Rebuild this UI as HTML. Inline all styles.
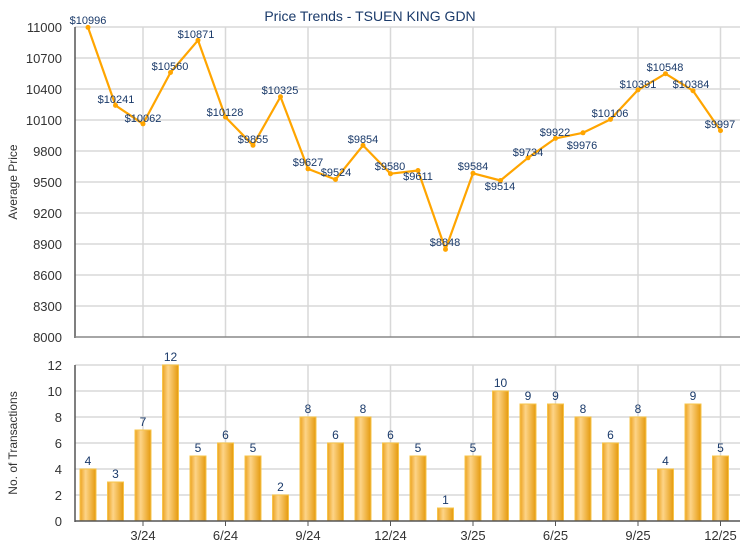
<!DOCTYPE html>
<html><head><meta charset="utf-8"><style>
html,body{margin:0;padding:0;background:#fff;}
svg{display:block;font-family:"Liberation Sans",Arial,sans-serif;}
</style></head><body>
<svg width="740" height="550" viewBox="0 0 740 550" xmlns="http://www.w3.org/2000/svg">
<defs>
<linearGradient id="bg" x1="0" x2="1" y1="0" y2="0">
<stop offset="0" stop-color="#eca21e"/><stop offset="0.35" stop-color="#fdd488"/><stop offset="1" stop-color="#e59a0c"/>
</linearGradient>
</defs>
<text x="370" y="21" text-anchor="middle" font-size="14" fill="#1a3a6a">Price Trends - TSUEN KING GDN</text>
<!-- top grid -->
<g stroke="#d8d8d8" stroke-width="1.5">
<line x1="75" x2="740" y1="27" y2="27"/><line x1="75" x2="740" y1="58" y2="58"/><line x1="75" x2="740" y1="89" y2="89"/><line x1="75" x2="740" y1="120" y2="120"/><line x1="75" x2="740" y1="151" y2="151"/><line x1="75" x2="740" y1="182" y2="182"/><line x1="75" x2="740" y1="213" y2="213"/><line x1="75" x2="740" y1="244" y2="244"/><line x1="75" x2="740" y1="275" y2="275"/><line x1="75" x2="740" y1="306" y2="306"/>
<line x1="143" x2="143" y1="27" y2="337"/><line x1="225.5" x2="225.5" y1="27" y2="337"/><line x1="308" x2="308" y1="27" y2="337"/><line x1="390.5" x2="390.5" y1="27" y2="337"/><line x1="473" x2="473" y1="27" y2="337"/><line x1="555.5" x2="555.5" y1="27" y2="337"/><line x1="638" x2="638" y1="27" y2="337"/><line x1="720.5" x2="720.5" y1="27" y2="337"/>
</g>
<line x1="75" x2="75" y1="27" y2="338" stroke="#555" stroke-width="1.5"/>
<line x1="75" x2="740" y1="337" y2="337" stroke="#888" stroke-width="1.5"/>
<g font-size="13" fill="#333" text-anchor="end">
<text x="62" y="32">11000</text><text x="62" y="63">10700</text><text x="62" y="94">10400</text><text x="62" y="125">10100</text><text x="62" y="156">9800</text><text x="62" y="187">9500</text><text x="62" y="218">9200</text><text x="62" y="249">8900</text><text x="62" y="280">8600</text><text x="62" y="311">8300</text><text x="62" y="342">8000</text>
</g>
<text transform="translate(17,182) rotate(-90)" text-anchor="middle" font-size="12" fill="#333">Average Price</text>
<polyline fill="none" stroke="#ffa500" stroke-width="2.2" stroke-linejoin="round" points="88,27.4 115.5,105.4 143,123.9 170.5,72.5 198,40.3 225.5,117.1 253,145.3 280.5,96.75 308,168.9 335.5,179.5 363,145.4 390.5,173.7 418,170.5 445.5,249.4 473,173.3 500.5,180.5 528,157.8 555.5,138.4 583,132.8 610.5,119.4 638,89.9 665.5,73.7 693,90.7 720.5,130.6"/>
<g fill="#ffa500">
<circle cx="88" cy="27.4" r="2.5"/><circle cx="115.5" cy="105.4" r="2.5"/><circle cx="143" cy="123.9" r="2.5"/><circle cx="170.5" cy="72.5" r="2.5"/><circle cx="198" cy="40.3" r="2.5"/><circle cx="225.5" cy="117.1" r="2.5"/><circle cx="253" cy="145.3" r="2.5"/><circle cx="280.5" cy="96.75" r="2.5"/><circle cx="308" cy="168.9" r="2.5"/><circle cx="335.5" cy="179.5" r="2.5"/><circle cx="363" cy="145.4" r="2.5"/><circle cx="390.5" cy="173.7" r="2.5"/><circle cx="418" cy="170.5" r="2.5"/><circle cx="445.5" cy="249.4" r="2.5"/><circle cx="473" cy="173.3" r="2.5"/><circle cx="500.5" cy="180.5" r="2.5"/><circle cx="528" cy="157.8" r="2.5"/><circle cx="555.5" cy="138.4" r="2.5"/><circle cx="583" cy="132.8" r="2.5"/><circle cx="610.5" cy="119.4" r="2.5"/><circle cx="638" cy="89.9" r="2.5"/><circle cx="665.5" cy="73.7" r="2.5"/><circle cx="693" cy="90.7" r="2.5"/><circle cx="720.5" cy="130.6" r="2.5"/>
</g>
<g font-size="11" fill="#1a3a6a" text-anchor="middle">
<text x="88" y="24">$10996</text><text x="116" y="103">$10241</text><text x="143" y="122">$10062</text><text x="170" y="70">$10560</text><text x="196" y="38">$10871</text><text x="225" y="116">$10128</text><text x="253" y="143">$9855</text><text x="280" y="94">$10325</text><text x="308" y="166">$9627</text><text x="336" y="176">$9524</text><text x="363" y="143">$9854</text><text x="390" y="170">$9580</text><text x="418" y="180">$9611</text><text x="445" y="246">$8848</text><text x="473" y="170">$9584</text><text x="500" y="190">$9514</text><text x="528" y="156">$9734</text><text x="555" y="136">$9922</text><text x="582" y="149">$9976</text><text x="610" y="117">$10106</text><text x="638" y="88">$10391</text><text x="665" y="71">$10548</text><text x="691" y="88">$10384</text><text x="720" y="128">$9997</text>
</g>
<!-- bottom grid -->
<g stroke="#d8d8d8" stroke-width="1.5">
<line x1="75" x2="740" y1="365" y2="365"/><line x1="75" x2="740" y1="391" y2="391"/><line x1="75" x2="740" y1="417" y2="417"/><line x1="75" x2="740" y1="443" y2="443"/><line x1="75" x2="740" y1="469" y2="469"/><line x1="75" x2="740" y1="495" y2="495"/>
<line x1="143" x2="143" y1="365" y2="521"/><line x1="225.5" x2="225.5" y1="365" y2="521"/><line x1="308" x2="308" y1="365" y2="521"/><line x1="390.5" x2="390.5" y1="365" y2="521"/><line x1="473" x2="473" y1="365" y2="521"/><line x1="555.5" x2="555.5" y1="365" y2="521"/><line x1="638" x2="638" y1="365" y2="521"/><line x1="720.5" x2="720.5" y1="365" y2="521"/>
</g>
<g fill="url(#bg)" stroke="#f7c44a" stroke-width="1">
<rect x="80" y="469" width="16" height="52"/><rect x="107.5" y="482" width="16" height="39"/><rect x="135" y="430" width="16" height="91"/><rect x="162.5" y="365" width="16" height="156"/><rect x="190" y="456" width="16" height="65"/><rect x="217.5" y="443" width="16" height="78"/><rect x="245" y="456" width="16" height="65"/><rect x="272.5" y="495" width="16" height="26"/><rect x="300" y="417" width="16" height="104"/><rect x="327.5" y="443" width="16" height="78"/><rect x="355" y="417" width="16" height="104"/><rect x="382.5" y="443" width="16" height="78"/><rect x="410" y="456" width="16" height="65"/><rect x="437.5" y="508" width="16" height="13"/><rect x="465" y="456" width="16" height="65"/><rect x="492.5" y="391" width="16" height="130"/><rect x="520" y="404" width="16" height="117"/><rect x="547.5" y="404" width="16" height="117"/><rect x="575" y="417" width="16" height="104"/><rect x="602.5" y="443" width="16" height="78"/><rect x="630" y="417" width="16" height="104"/><rect x="657.5" y="469" width="16" height="52"/><rect x="685" y="404" width="16" height="117"/><rect x="712.5" y="456" width="16" height="65"/>
</g>
<g font-size="12" fill="#1a3a6a" text-anchor="middle">
<text x="88" y="465">4</text><text x="115.5" y="478">3</text><text x="143" y="426">7</text><text x="170.5" y="361">12</text><text x="198" y="452">5</text><text x="225.5" y="439">6</text><text x="253" y="452">5</text><text x="280.5" y="491">2</text><text x="308" y="413">8</text><text x="335.5" y="439">6</text><text x="363" y="413">8</text><text x="390.5" y="439">6</text><text x="418" y="452">5</text><text x="445.5" y="504">1</text><text x="473" y="452">5</text><text x="500.5" y="387">10</text><text x="528" y="400">9</text><text x="555.5" y="400">9</text><text x="583" y="413">8</text><text x="610.5" y="439">6</text><text x="638" y="413">8</text><text x="665.5" y="465">4</text><text x="693" y="400">9</text><text x="720.5" y="452">5</text>
</g>
<line x1="75" x2="75" y1="365" y2="522" stroke="#555" stroke-width="1.5"/>
<line x1="75" x2="740" y1="521" y2="521" stroke="#555" stroke-width="1.5"/>
<g stroke="#555" stroke-width="1">
<line x1="143" x2="143" y1="521" y2="526"/><line x1="225.5" x2="225.5" y1="521" y2="526"/><line x1="308" x2="308" y1="521" y2="526"/><line x1="390.5" x2="390.5" y1="521" y2="526"/><line x1="473" x2="473" y1="521" y2="526"/><line x1="555.5" x2="555.5" y1="521" y2="526"/><line x1="638" x2="638" y1="521" y2="526"/><line x1="720.5" x2="720.5" y1="521" y2="526"/>
</g>
<g font-size="13" fill="#333" text-anchor="end">
<text x="62" y="370">12</text><text x="62" y="396">10</text><text x="62" y="422">8</text><text x="62" y="448">6</text><text x="62" y="474">4</text><text x="62" y="500">2</text><text x="62" y="526">0</text>
</g>
<g font-size="13" fill="#333" text-anchor="middle">
<text x="143" y="540">3/24</text><text x="225.5" y="540">6/24</text><text x="308" y="540">9/24</text><text x="390.5" y="540">12/24</text><text x="473" y="540">3/25</text><text x="555.5" y="540">6/25</text><text x="638" y="540">9/25</text><text x="720.5" y="540">12/25</text>
</g>
<text transform="translate(17,443) rotate(-90)" text-anchor="middle" font-size="12" fill="#333">No. of Transactions</text>
</svg>
</body></html>
